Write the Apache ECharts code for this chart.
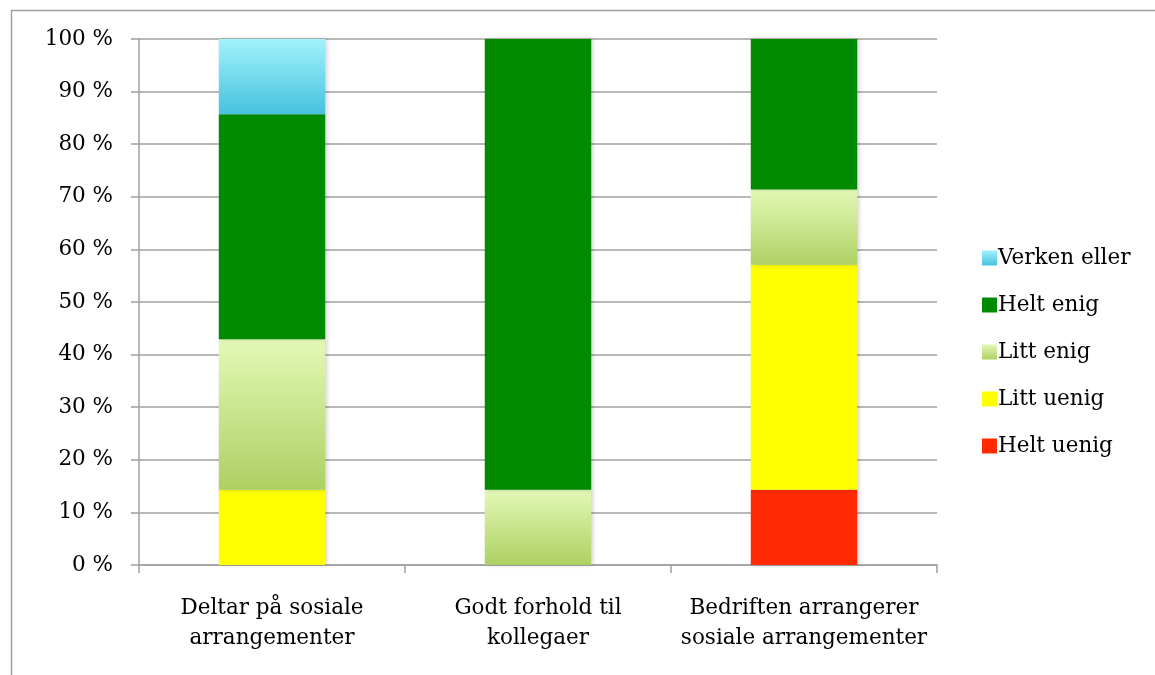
<!DOCTYPE html>
<html><head><meta charset="utf-8">
<script src="https://cdn.jsdelivr.net/npm/echarts@6/dist/echarts.min.js"></script>
<style>html,body{margin:0;padding:0;background:#fff}#c{width:1155px;height:675px}</style>
</head><body><div id="c"></div>
<script>
const categories = ['Deltar på sosiale\narrangementer', 'Godt forhold til\nkollegaer', 'Bedriften arrangerer\nsosiale arrangementer'];
const heltUenig = [0, 0, 14.3];
const littUenig = [14.3, 0, 42.8];
const littEnig = [28.6, 14.3, 14.3];
const heltEnig = [42.8, 85.7, 28.6];
const verkenEller = [14.3, 0, 0];
const yTicks = [0, 10, 20, 30, 40, 50, 60, 70, 80, 90, 100];

const FONT = 'DejaVu Serif';
const FS = 21.5;
function grad(top, bottom) {
  return {type: 'linear', x: 0, y: 0, x2: 0, y2: 1, colorStops: [{offset: 0, color: top}, {offset: 1, color: bottom}]};
}
const shadow = {shadowColor: 'rgba(0,0,0,0.18)', shadowBlur: 4, shadowOffsetX: 2, shadowOffsetY: 0};
function mk(name, data, color) {
  return {name, type: 'bar', stack: 's', data, barWidth: '40%',
    itemStyle: Object.assign({color}, shadow), emphasis: {disabled: true}};
}
const chart = echarts.init(document.getElementById('c'), null, {renderer: 'canvas'});
chart.setOption({
  animation: false,
  graphic: [{type: 'rect', shape: {x: 11.5, y: 10.5, width: 1200, height: 700}, style: {fill: 'none', stroke: '#a0a0a0', lineWidth: 1.5}, silent: true}],
  grid: {left: 139, top: 39, right: 218, bottom: 110, containLabel: false},
  legend: {
    orient: 'vertical', left: 977, top: 242, itemWidth: 15, itemHeight: 15, itemGap: 25,
    icon: 'rect',
    textStyle: {fontFamily: FONT, fontSize: FS, color: '#000', padding: [0, 0, 0, -4]},
    data: ['Verken eller', 'Helt enig', 'Litt enig', 'Litt uenig', 'Helt uenig']
  },
  xAxis: {
    type: 'category', data: categories,
    axisLine: {lineStyle: {color: '#a0a0a0', width: 1.5}},
    axisTick: {show: true, interval: 0, length: 8, lineStyle: {color: '#a0a0a0', width: 1.5}},
    axisLabel: {interval: 0, hideOverlap: false, fontFamily: FONT, fontSize: FS, color: '#000', lineHeight: 30, margin: 28}
  },
  yAxis: {
    type: 'value', min: 0, max: 100, interval: 10,
    axisLine: {show: true, lineStyle: {color: '#a0a0a0', width: 1.5}},
    axisTick: {show: true, length: 8, lineStyle: {color: '#a0a0a0', width: 1.5}},
    splitLine: {lineStyle: {color: '#a0a0a0', width: 1.5}},
    axisLabel: {fontFamily: FONT, fontSize: FS, color: '#000', margin: 26,
      formatter: v => yTicks.includes(v) ? v + ' %' : ''}
  },
  series: [
    mk('Helt uenig', heltUenig, '#ff2a00'),
    mk('Litt uenig', littUenig, '#ffff00'),
    mk('Litt enig', littEnig, grad('#e2f9b6', '#aed063')),
    mk('Helt enig', heltEnig, '#008a00'),
    mk('Verken eller', verkenEller, grad('#a2f2fc', '#46c2de'))
  ]
});
</script></body></html>
